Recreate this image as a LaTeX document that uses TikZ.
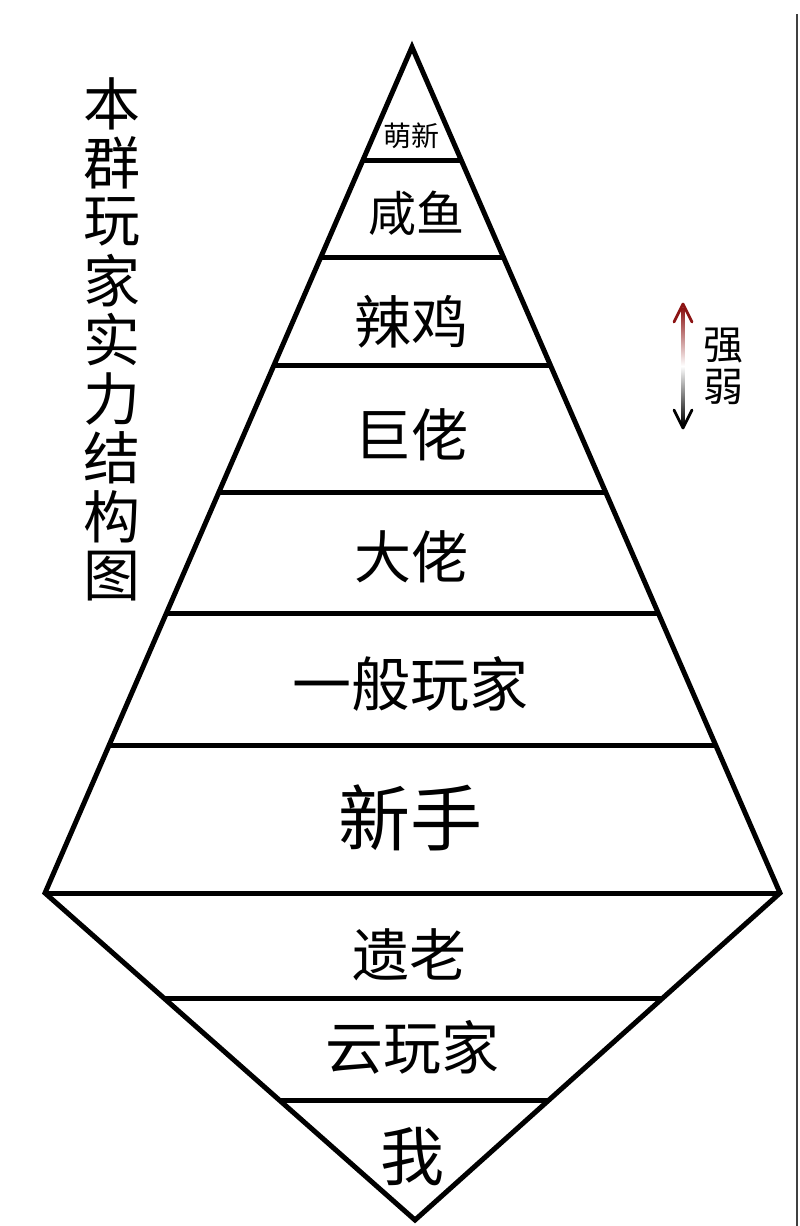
\documentclass[tikz,border=0pt]{standalone}
\usepackage{fontspec}
\newfontfamily\cjk{Noto Sans CJK SC}
\usetikzlibrary{calc,arrows.meta}
\definecolor{arrred}{RGB}{140,20,20}
\tikzset{
  frame/.style={line width=5pt, line join=miter, line cap=butt},
  lvl/.style={font=\cjk\fontsize{#1}{#1}\selectfont, inner sep=0pt, anchor=center},
}
\begin{document}
\begin{tikzpicture}[x=1pt,y=-1pt]
\useasboundingbox[fill=white] (0,0) rectangle (800,1226);
% right border line
\coordinate (E1) at (797,14);
\coordinate (E2) at (797,1226);
\draw[line width=2pt, black!75] (E1) -- (E2);
% vertices
\coordinate (A) at (412,47);
\coordinate (L) at (45,893);
\coordinate (R) at (780,893);
\coordinate (B) at (415,1220);
\draw[frame] (L) -- (A) -- (R) -- (B) -- cycle;
\draw[frame] (L) -- (R);
% horizontal dividers (upper triangle)
\foreach \t/\n in {0.1336/1,0.2494/2,0.3759/3,0.5260/4,0.6702/5,0.8251/6}{
  \coordinate (l\n) at ($(A)!\t!(L)$);
  \coordinate (r\n) at ($(A)!\t!(R)$);
  \draw[frame] (l\n) -- (r\n);
}
% lower triangle dividers
\foreach \t/\n in {0.3211/7,0.6330/8}{
  \coordinate (l\n) at ($(L)!\t!(B)$);
  \coordinate (r\n) at ($(R)!\t!(B)$);
  \draw[frame] (l\n) -- (r\n);
}
% level labels
\node[lvl=28] (t1) at (411,136) {萌新};
\node[lvl=48] (t2) at (416,213) {咸鱼};
\node[lvl=57] (t3) at (411,322) {辣鸡};
\node[lvl=57] (t4) at (411,435) {巨佬};
\node[lvl=57] (t5) at (411,557) {大佬};
\node[lvl=59] (t6) at (410,684) {一般玩家};
\node[lvl=72] (t7) at (410,818) {新手};
\node[lvl=57] (t8) at (409,955) {遗老};
\node[lvl=58] (t9) at (412,1047) {云玩家};
\node[lvl=64] (t10) at (412,1157) {我};
% title (vertical)
\foreach \c [count=\i] in {本,群,玩,家,实,力,结,构,图}{
  \node[lvl=57] (h\i) at (112,{45+\i*59}) {\c};
}
% strength arrow
\coordinate (P1) at (683,304);
\coordinate (P2) at (683,428);
\shade[top color=arrred, bottom color=white] (681.5,308) rectangle (684.5,366);
\shade[top color=white, bottom color=black] (681.5,366) rectangle (684.5,424);
\draw[arrred, line width=2.8pt, line cap=round, line join=round] (674,322) -- (P1) -- (692,322);
\draw[black, line width=2.8pt, line cap=round, line join=round] (674,410) -- (P2) -- (692,410);
\node[lvl=40] (s1) at (723,346) {强};
\node[lvl=40] (s2) at (723,387) {弱};
\end{tikzpicture}
\end{document}
